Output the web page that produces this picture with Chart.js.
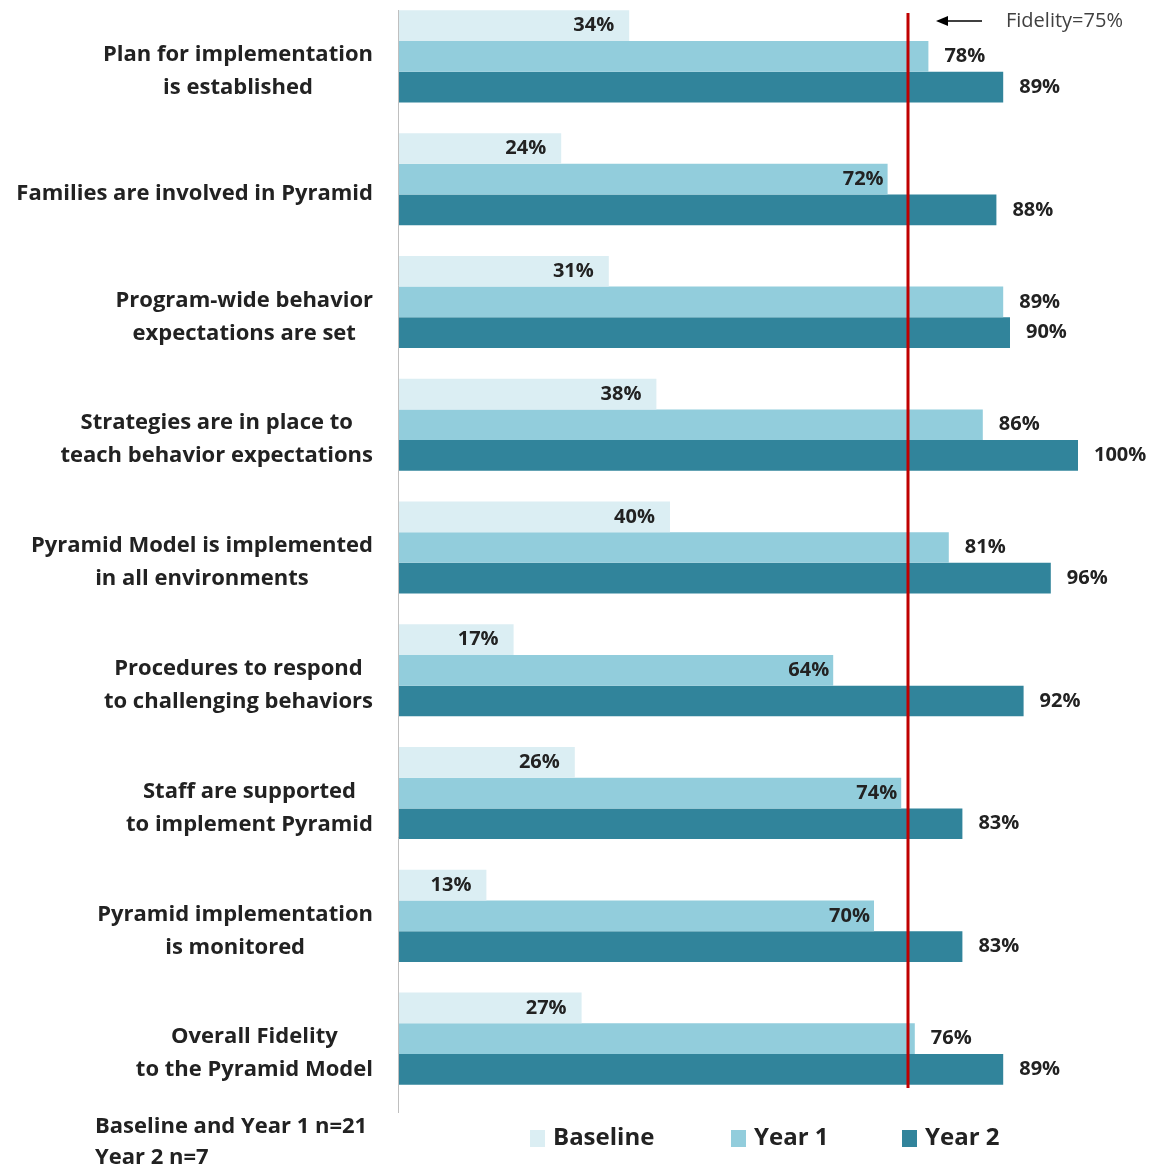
<!DOCTYPE html>
<html>
<head>
<meta charset="utf-8">
<script src="https://cdn.jsdelivr.net/npm/chart.js@4.4.0/dist/chart.umd.min.js"></script>
<style>
  html, body { margin: 0; padding: 0; background: #fff; overflow: hidden; }
  #wrap { position: absolute; left: 0; top: -16px; width: 1159px; height: 1187px; }
</style>
</head>
<body>
<div id="wrap"><canvas id="chart"></canvas></div>
<script>
// chart data
var categories = [
    ['Plan for implementation', 'is established'],
    ['Families are involved in Pyramid'],
    ['Program-wide behavior', 'expectations are set'],
    ['Strategies are in place to', 'teach behavior expectations'],
    ['Pyramid Model is implemented', 'in all environments'],
    ['Procedures to respond', 'to challenging behaviors'],
    ['Staff are supported', 'to implement Pyramid'],
    ['Pyramid implementation', 'is monitored'],
    ['Overall Fidelity', 'to the Pyramid Model']
];
var seriesNames = ['Baseline', 'Year 1', 'Year 2'];
var baseline = [34, 24, 31, 38, 40, 17, 26, 13, 27];
var year1 = [78, 72, 89, 86, 81, 64, 74, 70, 76];
var year2 = [89, 88, 90, 100, 96, 92, 83, 83, 89];
var fidelity = 75;
var fidelityText = 'Fidelity=75%';
var footnote = ['Baseline and Year 1 n=21', 'Year 2 n=7'];

var colors = ['#DBEEF3', '#92CDDC', '#31849B'];
var FONT = '"Open Sans", Lato, sans-serif';
var TEXT = '#222222';

var extras = {
    id: 'extras',
    afterDatasetsDraw: function(chart) {
        var ctx = chart.ctx;
        var area = chart.chartArea;
        var xs = chart.scales.x;
        var ys = chart.scales.y;

        // axis line on the left
        ctx.save();
        ctx.strokeStyle = '#BFBFBF';
        ctx.lineWidth = 1;
        ctx.beginPath();
        ctx.moveTo(area.left + 0.5, area.top + 15);
        ctx.lineTo(area.left + 0.5, area.bottom + 13);
        ctx.stroke();

        // fidelity line
        var fx = xs.getPixelForValue(fidelity);
        ctx.strokeStyle = '#C00000';
        ctx.lineWidth = 3;
        ctx.beginPath();
        ctx.moveTo(fx, area.top + 18);
        ctx.lineTo(fx, area.bottom - 12);
        ctx.stroke();

        // arrow + text
        var ay = area.top + 26;
        ctx.strokeStyle = '#000';
        ctx.fillStyle = '#000';
        ctx.lineWidth = 1.5;
        ctx.beginPath();
        ctx.moveTo(fx + 74, ay);
        ctx.lineTo(fx + 38, ay);
        ctx.stroke();
        ctx.beginPath();
        ctx.moveTo(fx + 28, ay);
        ctx.lineTo(fx + 40, ay - 5);
        ctx.lineTo(fx + 40, ay + 5);
        ctx.closePath();
        ctx.fill();
        ctx.fillStyle = '#404040';
        ctx.font = '20px ' + FONT;
        ctx.textAlign = 'left';
        ctx.textBaseline = 'middle';
        ctx.fillText(fidelityText, fx + 98, ay);

        // value labels
        ctx.font = 'bold 20px ' + FONT;
        ctx.fillStyle = TEXT;
        chart.data.datasets.forEach(function(ds, di) {
            var meta = chart.getDatasetMeta(di);
            meta.data.forEach(function(bar, i) {
                var v = ds.data[i];
                var txt = v + '%';
                var inside = di === 0 || (di === 1 && v < fidelity);
                if (inside) {
                    ctx.textAlign = 'right';
                    ctx.fillText(txt, bar.x - (di === 0 ? 15 : 4), bar.y);
                } else {
                    ctx.textAlign = 'left';
                    ctx.fillText(txt, bar.x + 16, bar.y);
                }
            });
        });

        // category labels, block right aligned, lines centered
        ctx.font = 'bold 22px ' + FONT;
        ctx.textAlign = 'center';
        var right = area.left - 25;
        categories.forEach(function(lines, i) {
            var cy = ys.getPixelForValue(i) + 15;
            var w = 0;
            lines.forEach(function(l) { w = Math.max(w, ctx.measureText(l).width); });
            var cx = right - w / 2;
            lines.forEach(function(l, k) {
                ctx.fillText(l, cx, cy + (k - (lines.length - 1) / 2) * 33);
            });
        });

        // footnote
        ctx.textAlign = 'left';
        ctx.font = 'bold 22px ' + FONT;
        footnote.forEach(function(l, k) {
            ctx.fillText(l, 95, area.bottom + 27 + k * 31);
        });

        // legend
        var lx = [530, 731, 902];
        var ly = area.bottom + 38;
        ctx.font = 'bold 24px ' + FONT;
        seriesNames.forEach(function(name, k) {
            ctx.fillStyle = colors[k];
            ctx.fillRect(lx[k], ly - 8, 15, 17);
            ctx.fillStyle = TEXT;
            ctx.fillText(name, lx[k] + 23, ly);
        });
        ctx.restore();
    }
};

new Chart(document.getElementById('chart').getContext('2d'), {
    type: 'bar',
    data: {
        labels: categories,
        datasets: [
            { label: seriesNames[0], data: baseline, backgroundColor: colors[0] },
            { label: seriesNames[1], data: year1, backgroundColor: colors[1] },
            { label: seriesNames[2], data: year2, backgroundColor: colors[2] }
        ]
    },
    options: {
        indexAxis: 'y',
        responsive: true,
        maintainAspectRatio: false,
        animation: false,
        datasets: { bar: { categoryPercentage: 0.75, barPercentage: 1.0 } },
        layout: { padding: { top: 11, bottom: 71, right: 81, left: 0 } },
        plugins: { legend: { display: false }, tooltip: { enabled: false } },
        scales: {
            x: { display: false, min: 0, max: 100 },
            y: {
                grid: { display: false },
                border: { display: false },
                ticks: { display: false },
                afterFit: function(scale) { scale.width = 398; }
            }
        }
    },
    plugins: [extras]
});
</script>
</body>
</html>
